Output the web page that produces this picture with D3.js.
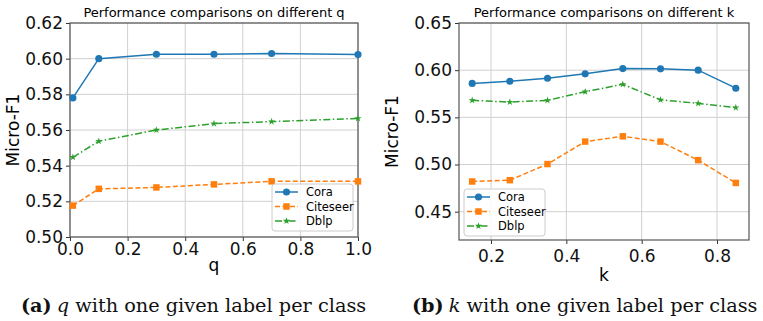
<!DOCTYPE html>
<html>
<head>
<meta charset="utf-8">
<script src="https://cdn.jsdelivr.net/npm/d3@7"></script>
<style>
  body { margin: 0; background: #fff; }
  svg { display: block; }
  .tick text { font-family: 'DejaVu Sans', sans-serif; }
</style>
</head>
<body>
<svg id="chart" width="763" height="321"></svg>
<script>
// panel (a): q
const qValues = [0.01, 0.1, 0.3, 0.5, 0.7, 1.0];
const qCora = [0.578, 0.600, 0.6025, 0.6025, 0.6029, 0.6023];
const qCiteseer = [0.5176, 0.527, 0.5278, 0.5295, 0.5312, 0.5312];
const qDblp = [0.5447, 0.5537, 0.560, 0.5636, 0.5647, 0.5665];
const qXTicks = [0.0, 0.2, 0.4, 0.6, 0.8, 1.0];
const qYTicks = [0.50, 0.52, 0.54, 0.56, 0.58, 0.60, 0.62];

// panel (b): k
const kValues = [0.15, 0.25, 0.35, 0.45, 0.55, 0.65, 0.75, 0.85];
const kCora = [0.586, 0.5883, 0.5914, 0.5961, 0.6017, 0.6014, 0.600, 0.5809];
const kCiteseer = [0.482, 0.4834, 0.5005, 0.5243, 0.5299, 0.5243, 0.5046, 0.4805];
const kDblp = [0.568, 0.5662, 0.568, 0.5772, 0.585, 0.5686, 0.5648, 0.5603];
const kXTicks = [0.2, 0.4, 0.6, 0.8];
const kYTicks = [0.45, 0.50, 0.55, 0.60, 0.65];

const seriesNames = ['Cora', 'Citeseer', 'Dblp'];
const colors = ['#1f77b4', '#ff7f0e', '#2ca02c'];
const dashes = [null, '5,2.5', '7,2.5,1.5,2.5'];
const symbols = [d3.symbolCircle, d3.symbolSquare, d3.symbolStar];
const symSizes = [40, 42, 16];

const svg = d3.select('#chart');

function panel(opt) {
  const g = svg.append('g');
  const x = d3.scaleLinear().domain(opt.xDomain).range([opt.left, opt.right]);
  const y = d3.scaleLinear().domain(opt.yDomain).range([opt.bottom, opt.top]);

  // grid
  g.append('g').selectAll('line.gx').data(opt.xTicks).enter().append('line')
    .attr('x1', d => x(d)).attr('x2', d => x(d))
    .attr('y1', opt.top).attr('y2', opt.bottom)
    .attr('stroke', '#d0d0d0').attr('stroke-width', 1);
  g.append('g').selectAll('line.gy').data(opt.yTicks).enter().append('line')
    .attr('x1', opt.left).attr('x2', opt.right)
    .attr('y1', d => y(d)).attr('y2', d => y(d))
    .attr('stroke', '#d0d0d0').attr('stroke-width', 1);

  // axes
  const xAxis = g.append('g')
    .attr('transform', 'translate(0,' + opt.bottom + ')')
    .call(d3.axisBottom(x).tickValues(opt.xTicks).tickFormat(d3.format('.1f')).tickSize(4).tickPadding(opt.xPad));
  const yAxis = g.append('g')
    .attr('transform', 'translate(' + opt.left + ',0)')
    .call(d3.axisLeft(y).tickValues(opt.yTicks).tickFormat(d3.format('.2f')).tickSize(4).tickPadding(3));
  [xAxis, yAxis].forEach(a => {
    a.select('.domain').remove();
    a.selectAll('.tick line').attr('stroke', '#333');
    a.selectAll('.tick text').attr('font-size', 17).attr('fill', '#111');
  });

  // frame
  g.append('rect')
    .attr('x', opt.left).attr('y', opt.top)
    .attr('width', opt.right - opt.left).attr('height', opt.bottom - opt.top)
    .attr('fill', 'none').attr('stroke', '#555').attr('stroke-width', 1.2);

  // lines + markers
  const line = d3.line().x(d => x(d[0])).y(d => y(d[1]));
  opt.series.forEach((vals, i) => {
    const pts = opt.xs.map((v, j) => [v, vals[j]]);
    g.append('path').datum(pts)
      .attr('d', line).attr('fill', 'none')
      .attr('stroke', colors[i]).attr('stroke-width', 1.5)
      .attr('stroke-dasharray', dashes[i]);
    g.append('g').selectAll('path').data(pts).enter().append('path')
      .attr('d', d3.symbol().type(symbols[i]).size(symSizes[i]))
      .attr('transform', d => 'translate(' + x(d[0]) + ',' + y(d[1]) + ')')
      .attr('fill', colors[i]);
  });

  // title
  g.append('text')
    .attr('x', (opt.left + opt.right) / 2).attr('y', opt.top - 6)
    .attr('text-anchor', 'middle')
    .attr('font-family', 'DejaVu Sans, sans-serif').attr('font-size', 13)
    .text(opt.title);

  // axis labels
  g.append('text')
    .attr('x', (opt.left + opt.right) / 2).attr('y', opt.bottom + opt.xLabelGap)
    .attr('text-anchor', 'middle')
    .attr('font-family', 'DejaVu Sans, sans-serif').attr('font-size', 17)
    .text(opt.xLabel);
  g.append('text')
    .attr('transform', 'translate(' + opt.yLabelX + ',' + ((opt.top + opt.bottom) / 2) + ') rotate(-90)')
    .attr('text-anchor', 'middle')
    .attr('font-family', 'DejaVu Sans, sans-serif').attr('font-size', 17)
    .text('Micro-F1');

  // legend
  const lg = g.append('g').attr('transform', 'translate(' + opt.legendX + ',' + opt.legendY + ')');
  lg.append('rect').attr('width', 81).attr('height', 47).attr('rx', 3)
    .attr('fill', '#fff').attr('fill-opacity', 0.85)
    .attr('stroke', '#ccc').attr('stroke-width', 1);
  seriesNames.forEach((name, i) => {
    const ly = 8 + i * 14.5;
    lg.append('line').attr('x1', 3).attr('x2', 26).attr('y1', ly).attr('y2', ly)
      .attr('stroke', colors[i]).attr('stroke-width', 1.5)
      .attr('stroke-dasharray', dashes[i]);
    lg.append('path')
      .attr('d', d3.symbol().type(symbols[i]).size(symSizes[i]))
      .attr('transform', 'translate(14.5,' + ly + ')')
      .attr('fill', colors[i]);
    lg.append('text').attr('x', 34).attr('y', ly + 4)
      .attr('font-family', 'DejaVu Sans, sans-serif').attr('font-size', 11.5)
      .text(name);
  });

  // caption
  const cap = svg.append('text')
    .attr('x', opt.capX).attr('y', 312)
    .attr('font-family', 'DejaVu Serif, serif').attr('font-size', 19.3)
    .attr('fill', '#111');
  cap.append('tspan').attr('font-weight', 'bold').text(opt.capTag);
  cap.append('tspan').attr('font-style', 'italic').attr('dx', 5).text(opt.capVar);
  cap.append('tspan').text(' with one given label per class');
}

panel({
  left: 70, right: 358, top: 23, bottom: 237,
  xDomain: [0, 1], yDomain: [0.50, 0.62],
  xTicks: qXTicks, yTicks: qYTicks,
  xs: qValues, series: [qCora, qCiteseer, qDblp],
  title: 'Performance comparisons on different q',
  xLabel: 'q', xLabelGap: 34, xPad: 2, yLabelX: 19,
  legendX: 272, legendY: 184,
  capX: 21, capTag: '(a)', capVar: 'q'
});

panel({
  left: 459, right: 749, top: 23, bottom: 240,
  xDomain: [0.115, 0.885], yDomain: [0.42, 0.65],
  xTicks: kXTicks, yTicks: kYTicks,
  xs: kValues, series: [kCora, kCiteseer, kDblp],
  title: 'Performance comparisons on different k',
  xLabel: 'k', xLabelGap: 41, xPad: 6, yLabelX: 398,
  legendX: 464, legendY: 189,
  capX: 412, capTag: '(b)', capVar: 'k'
});
</script>
</body>
</html>
